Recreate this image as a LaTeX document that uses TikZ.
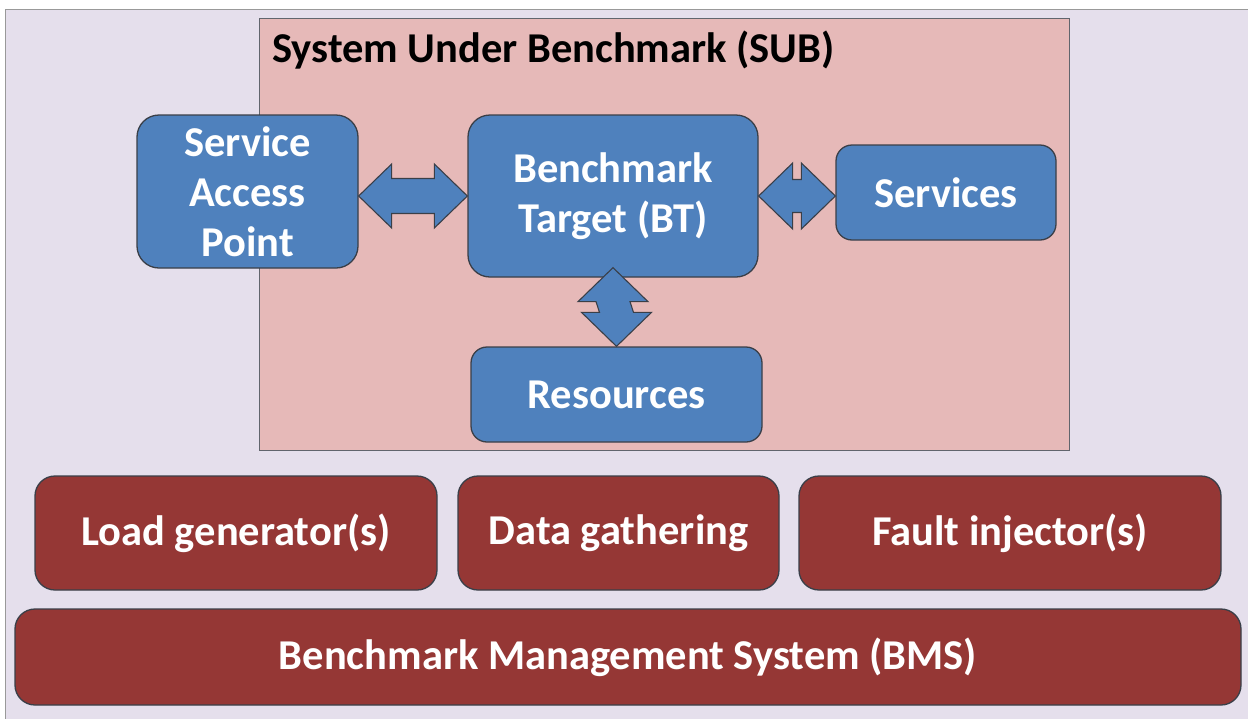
\documentclass[tikz,border=0pt]{standalone}
\usepackage{fontspec}
\setmainfont{Carlito}
\usetikzlibrary{calc}
\definecolor{lav}{HTML}{E5DFEC}
\definecolor{pinkbg}{HTML}{E6B9B8}
\definecolor{bluef}{HTML}{4F81BD}
\definecolor{redf}{HTML}{953735}
\definecolor{edge}{HTML}{3A3F48}
\tikzset{
  bluebox/.style={draw=edge, line width=1.3pt, fill=bluef, rounded corners=22pt, text=white, font=\fontsize{42.5}{50}\selectfont\bfseries, align=center, inner sep=0pt},
  redbox/.style={draw=edge, line width=1.3pt, fill=redf, rounded corners=20pt, text=white, font=\fontsize{42.5}{50}\selectfont\bfseries, align=center, inner sep=0pt, minimum height=114pt},
  barrow/.style={draw=edge, line width=1.1pt, fill=bluef, line join=miter},
}
\begin{document}
\begin{tikzpicture}[x=1pt,y=-1pt]
\useasboundingbox (0,0) rectangle (1248,718);
\fill[white] (0,0) rectangle (1248,718);
\draw[fill=lav, draw=gray!80, line width=1pt] (5,9) rectangle (1256,726);
% SUB
\node[draw=edge!80, line width=1pt, fill=pinkbg, minimum width=810pt, minimum height=432pt, inner sep=0pt] (sub) at (664,234) {};
\node[anchor=base west, font=\fontsize{42.5}{50}\selectfont\bfseries, inner sep=0pt] (subt) at (272,62) {System Under Benchmark (SUB)};
% blue boxes
\node[bluebox, minimum width=221pt, minimum height=153pt] (sap) at (247.5,191.5) {Service\\Access\\Point};
\node[bluebox, minimum width=290pt, minimum height=162pt] (bt) at (613,196) {Benchmark\\Target (BT)};
\node[bluebox, minimum width=220pt, minimum height=95pt, rounded corners=16pt] (srv) at (946,192.5) {Services};
\node[bluebox, minimum width=291pt, minimum height=95pt, rounded corners=16pt] (res) at (616.5,394.5) {Resources};
% arrows
\coordinate (a1l) at (sap.east |- bt.west);
\coordinate (a1r) at (bt.west);
\coordinate (a2l) at (bt.east);
\coordinate (a2r) at (srv.west |- bt.east);
\coordinate (a3t) at ($(bt.south)+(0,-10)$);
\coordinate (a3b) at (res.north);
\draw[barrow] let \p1=(a1l), \p2=(a1r) in
  (\x1,\y1) -- (\x1+33pt,\y1+32pt) -- (\x1+33pt,\y1+17.5pt) -- (\x2-33pt,\y2+17.5pt) -- (\x2-33pt,\y2+32pt)
  -- (\x2,\y2) -- (\x2-33pt,\y2-32pt) -- (\x2-33pt,\y2-17.5pt) -- (\x1+33pt,\y1-17.5pt) -- (\x1+33pt,\y1-32pt) -- cycle;
\draw[barrow] let \p1=(a2l), \p2=(a2r) in
  (\x1,\y1) -- (\x1+34pt,\y1+33pt) -- (\x1+34pt,\y1+16.5pt) -- (\x2-34pt,\y2+16.5pt) -- (\x2-34pt,\y2+33pt)
  -- (\x2,\y2) -- (\x2-34pt,\y2-33pt) -- (\x2-34pt,\y2-16.5pt) -- (\x1+34pt,\y1-16.5pt) -- (\x1+34pt,\y1-33pt) -- cycle;
\draw[barrow] let \p1=(a3t), \p2=(a3b) in
  (\x1,\y1) -- (\x1+35pt,\y1-34pt) -- (\x1+17pt,\y1-34pt) -- (\x2+17pt,\y2+34pt) -- (\x2+35pt,\y2+34pt)
  -- (\x2,\y2) -- (\x2-35pt,\y2+34pt) -- (\x2-17pt,\y2+34pt) -- (\x1-17pt,\y1-34pt) -- (\x1-35pt,\y1-34pt) -- cycle;
% red boxes
\node[redbox, minimum width=402pt] (load) at (236,533) {Load generator(s)};
\node[redbox, minimum width=321pt] (data) at (618.5,533) {Data gathering};
\node[redbox, minimum width=422pt] (fault) at (1010,533) {Fault injector(s)};
\node[redbox, minimum width=1226pt, minimum height=96pt] (bms) at (628,657) {Benchmark Management System (BMS)};
\end{tikzpicture}
\end{document}
